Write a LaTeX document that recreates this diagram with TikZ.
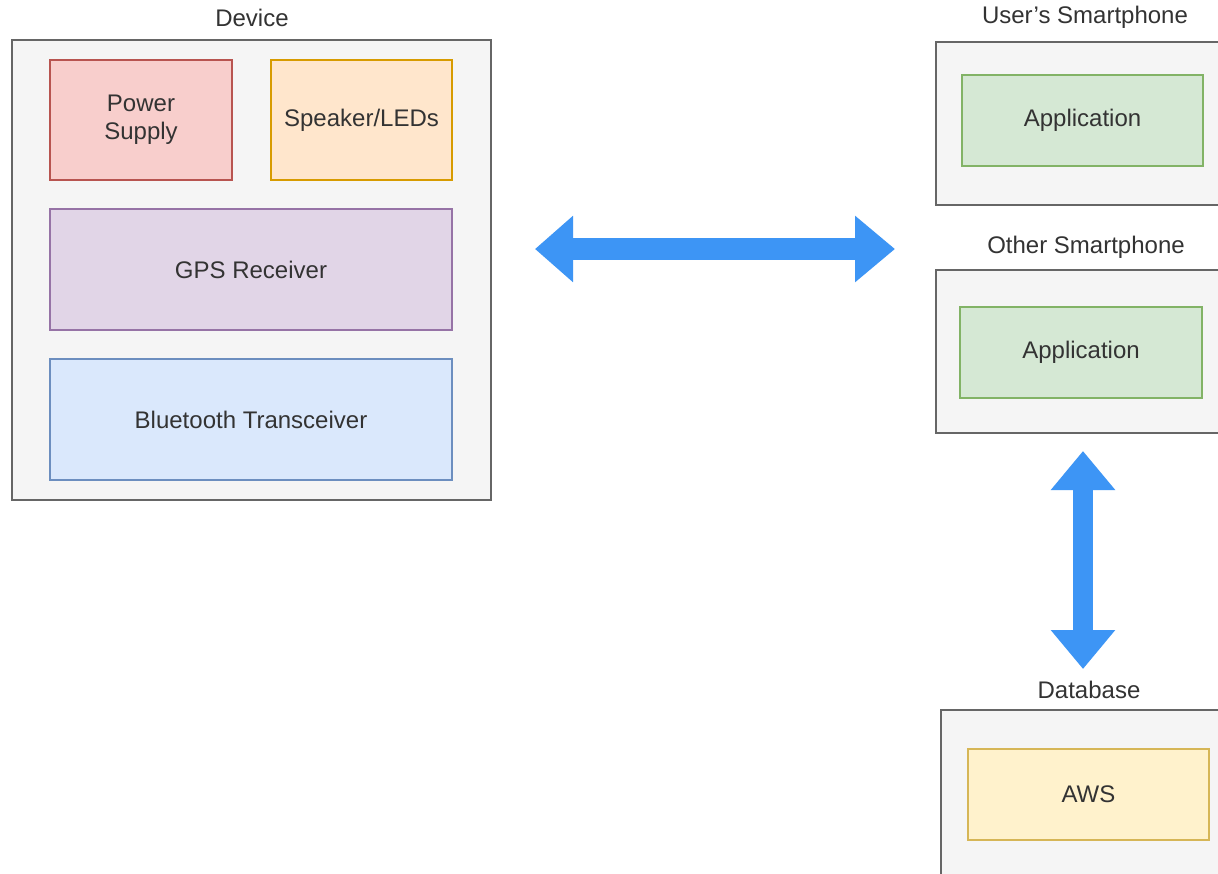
\documentclass[tikz,border=0pt]{standalone}
\usepackage{fontspec}
\setmainfont{Liberation Sans}
\usetikzlibrary{arrows.meta}
\definecolor{grayfill}{HTML}{F5F5F5}
\definecolor{graydraw}{HTML}{666666}
\definecolor{redfill}{HTML}{F8CECC}
\definecolor{reddraw}{HTML}{B85450}
\definecolor{orangefill}{HTML}{FFE6CC}
\definecolor{orangedraw}{HTML}{D79B00}
\definecolor{purplefill}{HTML}{E1D5E7}
\definecolor{purpledraw}{HTML}{9673A6}
\definecolor{bluefill}{HTML}{DAE8FC}
\definecolor{bluedraw}{HTML}{6C8EBF}
\definecolor{greenfill}{HTML}{D5E8D4}
\definecolor{greendraw}{HTML}{82B366}
\definecolor{yellowfill}{HTML}{FFF2CC}
\definecolor{yellowdraw}{HTML}{D6B656}
\definecolor{arrowblue}{HTML}{3D95F5}
\definecolor{txt}{HTML}{333333}
\begin{document}
\begin{tikzpicture}[x=1pt,y=-1pt,
  every node/.style={font=\fontsize{24}{28}\selectfont, text=txt, inner sep=0pt, outer sep=0pt},
  blk/.style={draw=#1draw, fill=#1fill, line width=1.5pt, align=center},
  lbl/.style={},
  bigarrow/.style={line width=22pt, draw=arrowblue,
    {Triangle[length=38pt,width=64pt]}-{Triangle[length=40pt,width=64pt]}},
  vbigarrow/.style={line width=20pt, draw=arrowblue,
    {Triangle[length=39pt,width=62pt]}-{Triangle[length=39pt,width=62pt]}}
]
\clip (0,0) rectangle (1218,873);
\fill[white] (0,0) rectangle (1218,873);

% Device
\node[lbl] (devlbl) at (252,18) {Device};
\node[blk=gray, minimum width=479, minimum height=460] (dev) at (251.5,270) {};
\node[blk=red, minimum width=182, minimum height=120] (psu) at (141,120) {Power\\Supply};
\node[blk=orange, minimum width=181, minimum height=120] (spk) at (361.5,120) {Speaker/LEDs};
\node[blk=purple, minimum width=402, minimum height=121] (gps) at (251,269.5) {GPS Receiver};
\node[blk=blue, minimum width=402, minimum height=121] (bt) at (251,419.5) {Bluetooth Transceiver};

% User's Smartphone
\node[lbl] (usrlbl) at (1085,17) {User's Smartphone};
\node[blk=gray, minimum width=298, minimum height=163] (usr) at (1085,123.5) {};
\node[blk=green, minimum width=241, minimum height=91] (app1) at (1082.5,120.5) {Application};

% Other Smartphone
\node[lbl] (othlbl) at (1086,247) {Other Smartphone};
\node[blk=gray, minimum width=298, minimum height=163] (oth) at (1085,351.5) {};
\node[blk=green, minimum width=242, minimum height=91] (app2) at (1081,352.5) {Application};

% Database
\node[lbl] (dblbl) at (1089,690) {Database};
\node[blk=gray, minimum width=295, minimum height=190] (db) at (1088.5,805) {};
\node[blk=yellow, minimum width=241, minimum height=91] (aws) at (1088.5,794.5) {AWS};

% Arrows
\coordinate (h1) at (535,249);
\coordinate (h2) at (895,249);
\coordinate (v1) at (1083,451);
\coordinate (v2) at (1083,669);
\draw[bigarrow] (h1) -- (h2);
\draw[vbigarrow] (v1) -- (v2);
\end{tikzpicture}
\end{document}
